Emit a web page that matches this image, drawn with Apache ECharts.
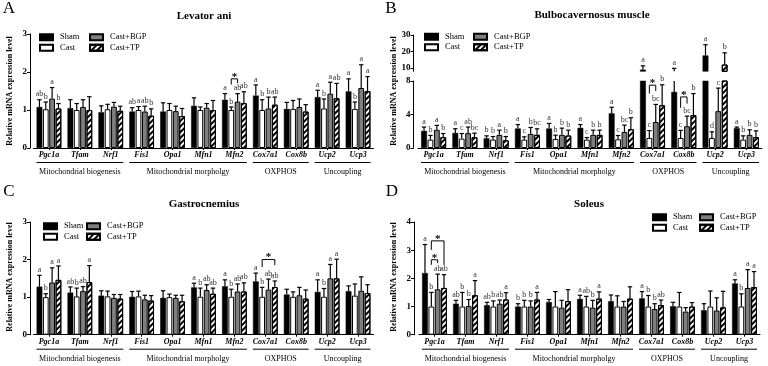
<!DOCTYPE html>
<html><head><meta charset="utf-8">
<script src="https://cdn.jsdelivr.net/npm/echarts@6.0.0/dist/echarts.min.js"></script>
<style>html,body{margin:0;padding:0;background:#fff;}#chart{width:768px;height:366px;}</style>
</head><body><div id="chart"></div>
<script>
const genes = ['Pgc1a','Tfam','Nrf1','Fis1','Opa1','Mfn1','Mfn2','Cox7a1','Cox8b','Ucp2','Ucp3'];
const seriesNames = ['Sham','Cast','Cast+BGP','Cast+TP'];
const groupNames = ['Mitochondrial biogenesis','Mitochondrial morpholgy','OXPHOS','Uncoupling'];
const groupStart = [0,3,7,9];
const groupEnd = [2,6,8,10];
const yName = 'Relative mRNA expression level';

// Panel A - Levator ani
const A_sham = [1.08,1.05,0.94,0.96,0.96,1.11,1.27,1.38,1.03,1.34,1.49];
const A_sham_err = [1.27,1.27,1.11,1.06,1.19,1.32,1.43,1.66,1.20,1.52,1.82];
const A_cast = [1.02,1.00,1.02,1.00,1.00,1.00,1.00,1.00,1.03,1.04,1.03];
const A_cast_err = [1.21,1.17,1.15,1.09,1.17,1.08,1.08,1.27,1.25,1.29,1.21];
const A_bgp = [1.30,1.08,1.09,0.96,0.97,1.06,1.22,1.04,1.08,1.43,1.58];
const A_bgp_err = [1.59,1.27,1.20,1.10,1.10,1.17,1.43,1.34,1.29,1.73,2.19];
const A_tp = [1.04,1.00,0.98,0.85,0.84,1.00,1.18,1.14,0.96,1.31,1.50];
const A_tp_err = [1.17,1.35,1.10,1.03,1.04,1.25,1.48,1.34,1.14,1.70,1.88];
const A_let_sham = ['ab','','','ab','','','a','a','','a','a'];
const A_let_cast = ['b','','','a','','','b','b','','b','b'];
const A_let_bgp = ['a','','','ab','','','ab','b','','a','a'];
const A_let_tp = ['b','','','b','','','ab','ab','','ab','a'];
// [category, from series, to series, top, left leg end, right leg end]
const A_brackets = [[6,1,2,1.82,1.67,1.71]];

// Panel B - Bulbocavernosus muscle
const B_sham = [2.05,1.80,1.16,2.33,2.33,2.41,4.14,9.0,6.7,17.6,2.37];
const B_sham_err = [2.5,2.3,1.45,2.8,2.93,2.8,4.86,11.3,9.8,24.1,2.5];
const B_cast = [1.0,1.12,1.0,1.0,1.08,1.0,1.04,1.2,1.2,1.2,1.0];
const B_cast_err = [1.5,1.73,1.37,1.33,1.53,1.25,1.49,2.08,2.1,1.93,1.45];
const B_bgp = [2.17,1.77,1.57,1.69,1.57,1.57,1.93,3.1,2.6,4.4,1.57];
const B_bgp_err = [2.7,2.5,2.13,2.45,2.37,2.13,2.73,5.2,3.8,7.15,2.17];
const B_tp = [1.29,1.29,0.92,1.57,1.49,1.57,2.25,5.1,3.94,12.1,1.29];
const B_tp_err = [1.73,1.77,1.37,2.29,2.13,2.13,3.61,7.55,6.5,19.2,2.05];
const B_let_sham = ['a','a','b','a','a','a','a','a','a','a','a'];
const B_let_cast = ['b','c','b','c','b','c','c','c','c','d','b'];
const B_let_bgp = ['a','ab','a','b','b','b','bc','bc','bc','c','b'];
const B_let_tp = ['b','bc','b','bc','b','b','b','b','b','b','b'];
const B_brackets = [[7,1,2,7.5,6.5,6.8],[8,1,2,6.1,4.8,5.3]];

// Panel C - Gastrocnemius
const C_sham = [1.28,1.12,1.04,1.01,0.98,1.26,1.29,1.42,1.07,1.14,1.16];
const C_sham_err = [1.58,1.27,1.17,1.15,1.17,1.37,1.46,1.64,1.21,1.46,1.30];
const C_cast = [1.00,1.02,1.02,1.02,1.00,1.01,1.01,1.01,1.01,1.01,1.04];
const C_cast_err = [1.09,1.24,1.16,1.16,1.08,1.24,1.21,1.26,1.14,1.23,1.35];
const C_bgp = [1.39,1.16,0.98,0.94,0.98,1.19,1.15,1.20,1.05,1.50,1.17];
const C_bgp_err = [1.78,1.28,1.07,1.05,1.05,1.33,1.35,1.48,1.26,1.87,1.54];
const C_tp = [1.46,1.40,0.96,0.91,0.89,1.09,1.15,1.27,0.96,1.50,1.11];
const C_tp_err = [1.83,1.84,1.07,1.04,1.05,1.24,1.38,1.43,1.19,2.01,1.33];
const C_let_sham = ['a','ab','','','','a','a','a','','a',''];
const C_let_cast = ['b','b','','','','b','b','b','','b',''];
const C_let_bgp = ['a','ab','','','','ab','ab','ab','','a',''];
const C_let_tp = ['a','a','','','','ab','ab','ab','','a',''];
const C_brackets = [[7,1,3,2.0,1.8,1.85]];

// Panel D - Soleus
const D_sham = [2.19,1.10,1.05,1.00,1.16,1.27,1.19,1.29,1.01,0.87,1.82];
const D_sham_err = [3.20,1.22,1.15,1.10,1.25,1.40,1.41,1.53,1.15,1.10,1.95];
const D_cast = [1.00,1.00,1.00,1.00,1.00,1.00,1.00,1.00,1.00,1.00,1.00];
const D_cast_err = [1.50,1.50,1.20,1.22,1.53,1.36,1.38,1.39,1.50,1.55,1.45];
const D_bgp = [1.61,1.02,1.10,1.00,0.96,0.96,1.00,0.91,0.82,0.86,1.66];
const D_bgp_err = [2.15,1.25,1.23,1.20,1.22,1.22,1.18,1.10,0.96,1.31,2.31];
const D_tp = [1.66,1.40,1.25,1.25,1.19,1.28,1.28,1.05,1.00,0.97,1.69];
const D_tp_err = [2.13,1.92,1.49,1.50,1.60,1.52,1.70,1.23,1.14,1.54,2.24];
const D_let_sham = ['a','ab','ab','b','','a','','a','','','a'];
const D_let_cast = ['b','b','b','b','','ab','','b','','','b'];
const D_let_bgp = ['ab','b','ab','b','','b','','b','','','a'];
const D_let_tp = ['ab','a','a','a','','a','','ab','','','a'];
const D_brackets = [[0,1,2,2.66,2.48,2.54],[0,1,3,3.33,3.01,2.48]];

const serif = '"Liberation Serif","Times New Roman",serif';
const barStyles = [
  {color:'#000', borderColor:'#000', borderWidth:0.5},
  {color:'#fff', borderColor:'#000', borderWidth:1},
  {color:'#7f7f7f', borderColor:'#000', borderWidth:1},
  {color:'#fff', borderColor:'#000', borderWidth:1,
   decal:{symbol:'rect', symbolSize:1, dashArrayX:[1,0], dashArrayY:[2,2], rotation:-Math.PI/4, color:'#000'}}
];

const panels = [
  {vals:[A_sham,A_cast,A_bgp,A_tp], errs:[A_sham_err,A_cast_err,A_bgp_err,A_tp_err],
   letters:[A_let_sham,A_let_cast,A_let_bgp,A_let_tp], brackets:A_brackets, yOffset:3.5,
   grids:[{left:33.5, top:34, width:340, height:114, min:0, max:3, interval:1}],
   legends:[[39,32.5],[89,32.5]], title:['A','Levator ani',9,9,204,16], yname:[10,91]},
  {vals:[B_sham,B_cast,B_bgp,B_tp], errs:[B_sham_err,B_cast_err,B_bgp_err,B_tp_err],
   letters:[B_let_sham,B_let_cast,B_let_bgp,B_let_tp], brackets:B_brackets, yOffset:4.5,
   grids:[{left:418, top:81, width:344, height:67, min:0, max:8, interval:4},
          {left:418, top:35, width:344, height:36.3, min:8, max:30, ticks:[10,20,30]}],
   legends:[[424,32],[473,32]], title:['B',"Bulbocavernosus muscle",391,9,592,15], yname:[394,91]},
  {vals:[C_sham,C_cast,C_bgp,C_tp], errs:[C_sham_err,C_cast_err,C_bgp_err,C_tp_err],
   letters:[C_let_sham,C_let_cast,C_let_bgp,C_let_tp], brackets:C_brackets, yOffset:3.5,
   grids:[{left:33.5, top:222, width:340, height:112.7, min:0, max:3, interval:1}],
   legends:[[43,221.5],[86,221.5]], title:['C','Gastrocnemius',9,192,204,204], yname:[10,277]},
  {vals:[D_sham,D_cast,D_bgp,D_tp], errs:[D_sham_err,D_cast_err,D_bgp_err,D_tp_err],
   letters:[D_let_sham,D_let_cast,D_let_bgp,D_let_tp], brackets:D_brackets, yOffset:5,
   grids:[{left:419, top:222, width:341, height:112.7, min:0, max:4, interval:1}],
   legends:[[652,212.5],[699,212.5]], title:['D','Soleus',392,192,589,204], yname:[394,277]}
];

function barX(api, cat, si) {
  const W = api.size([1, 0])[0];
  const bw = 0.8 * W / 4.3;
  return api.coord([cat, 0])[0] - 0.4 * W + bw / 2 + si * 1.1 * bw;
}

function errRender(g, letters) {
  return function (params, api) {
    const cat = api.value(0), si = api.value(1), v = api.value(2), e = api.value(3);
    const x = barX(api, cat, si);
    const lo = Math.max(v, g.min), hi = Math.min(e, g.max);
    const children = [];
    if (hi > lo) {
      children.push({type:'line', shape:{x1:x, y1:api.coord([cat, lo])[1], x2:x, y2:api.coord([cat, hi])[1]},
        style:{stroke:'#000', lineWidth:1.2}});
    }
    if (e > g.min && e <= g.max) {
      const ye = api.coord([cat, e])[1];
      children.push({type:'line', shape:{x1:x - 2.2, y1:ye, x2:x + 2.2, y2:ye}, style:{stroke:'#000', lineWidth:1.2}});
      const t = letters[si][cat];
      if (t) children.push({type:'text', x:x, y:ye - 1.5,
        style:{text:t, fill:'#333', fontFamily:serif, fontSize:8, align:'center', verticalAlign:'bottom'}});
    }
    return {type:'group', children};
  };
}

function bracketRender(list) {
  return function (params, api) {
    const b = list[params.dataIndex];
    const xa = barX(api, b[0], b[1]), xb = barX(api, b[0], b[2]);
    const yt = api.coord([b[0], b[3]])[1], yl = api.coord([b[0], b[4]])[1], yr = api.coord([b[0], b[5]])[1];
    return {type:'group', children:[
      {type:'polyline', shape:{points:[[xa, yl],[xa, yt],[xb, yt],[xb, yr]]}, style:{stroke:'#000', fill:null, lineWidth:1}},
      {type:'text', x:(xa + xb) / 2, y:yt + 3.5,
        style:{text:'*', fill:'#000', fontFamily:serif, fontWeight:'bold', fontSize:11, align:'center', verticalAlign:'bottom'}}
    ]};
  };
}

function groupRender(params, api) {
  const i = params.dataIndex;
  const W = api.size([1, 0])[0];
  const x0 = api.coord([groupStart[i], 0])[0] - W / 2 + 3;
  const x1 = api.coord([groupEnd[i], 0])[0] + W / 2 - 3;
  const yb = api.coord([groupStart[i], 0])[1];
  return {type:'group', children:[
    {type:'line', shape:{x1:x0, y1:yb + 14.5, x2:x1, y2:yb + 14.5}, style:{stroke:'#000', lineWidth:1}},
    {type:'text', x:(x0 + x1) / 2, y:yb + 24,
      style:{text:groupNames[i], fill:'#000', fontFamily:serif, fontSize:8, align:'center', verticalAlign:'middle'}}
  ]};
}

const option = {animation:false, grid:[], xAxis:[], yAxis:[], series:[], legend:[], graphic:[]};

function legendAt(names, left, top) {
  return {orient:'vertical', left:left, top:top, data:names, icon:'rect', itemWidth:13, itemHeight:6,
    itemGap:1, padding:0, selectedMode:false,
    textStyle:{fontFamily:serif, fontSize:8.5, color:'#000', lineHeight:9.5, padding:[0,0,0,2]}};
}

panels.forEach(p => {
  p.grids.forEach((g, k) => {
    const gi = option.grid.length;
    const main = k === 0;
    option.grid.push({left:g.left, top:g.top, width:g.width, height:g.height});
    option.xAxis.push({type:'category', gridIndex:gi, data:genes, show:main,
      axisLine:{lineStyle:{color:'#000', width:1}},
      axisTick:{show:true, alignWithLabel:true, length:2, lineStyle:{color:'#000'}},
      axisLabel:{fontFamily:serif, fontStyle:'italic', fontWeight:'bold', fontSize:8, color:'#000', margin:3, interval:0}});
    const y = {type:'value', gridIndex:gi, min:g.min, max:g.max, offset:p.yOffset, splitLine:{show:false},
      axisLine:{show:true, lineStyle:{color:'#000', width:1}},
      axisTick:{show:true, length:3, lineStyle:{color:'#000'}},
      axisLabel:{fontFamily:serif, fontWeight:'bold', fontSize:9, color:'#000', margin:3}};
    if (g.ticks) { y.axisLabel.customValues = g.ticks; y.axisTick.customValues = g.ticks; }
    else { y.interval = g.interval; }
    option.yAxis.push(y);
    seriesNames.forEach((nm, si) => {
      option.series.push({type:'bar', name:nm, xAxisIndex:gi, yAxisIndex:gi,
        data:p.vals[si].map(v => (v > g.min ? v : '-')),
        itemStyle:barStyles[si], barGap:'10%', barCategoryGap:'20%', clip:true, silent:true});
    });
    const ed = [];
    p.vals.forEach((arr, si) => arr.forEach((v, j) => ed.push([j, si, v, p.errs[si][j]])));
    option.series.push({type:'custom', xAxisIndex:gi, yAxisIndex:gi, data:ed, z:5, silent:true,
      renderItem:errRender(g, p.letters)});
    if (main) {
      option.series.push({type:'custom', xAxisIndex:gi, yAxisIndex:gi, z:6, silent:true,
        data:p.brackets.map(b => [b[0], b[3]]), renderItem:bracketRender(p.brackets)});
      option.series.push({type:'custom', xAxisIndex:gi, yAxisIndex:gi, z:6, silent:true, clip:false,
        data:groupStart.map((s, i) => [s, 0]), renderItem:groupRender});
    }
  });
  option.legend.push(legendAt(['Sham','Cast'], p.legends[0][0], p.legends[0][1]));
  option.legend.push(legendAt(['Cast+BGP','Cast+TP'], p.legends[1][0], p.legends[1][1]));
  const t = p.title;
  option.graphic.push({type:'text', x:t[2], y:t[3], style:{text:t[0], fill:'#000', font:'17px ' + serif,
    textAlign:'center', textVerticalAlign:'middle', align:'center', verticalAlign:'middle'}});
  option.graphic.push({type:'text', x:t[4], y:t[5], style:{text:t[1], fill:'#000', font:'bold 11px ' + serif,
    textAlign:'center', textVerticalAlign:'middle', align:'center', verticalAlign:'middle'}});
  option.graphic.push({type:'text', x:p.yname[0], y:p.yname[1], rotation:Math.PI / 2,
    style:{text:yName, fill:'#000', font:'bold 8px ' + serif,
    textAlign:'center', textVerticalAlign:'middle', align:'center', verticalAlign:'middle'}});
});

const chart = echarts.init(document.getElementById('chart'));
chart.setOption(option);
</script>
</body></html>
